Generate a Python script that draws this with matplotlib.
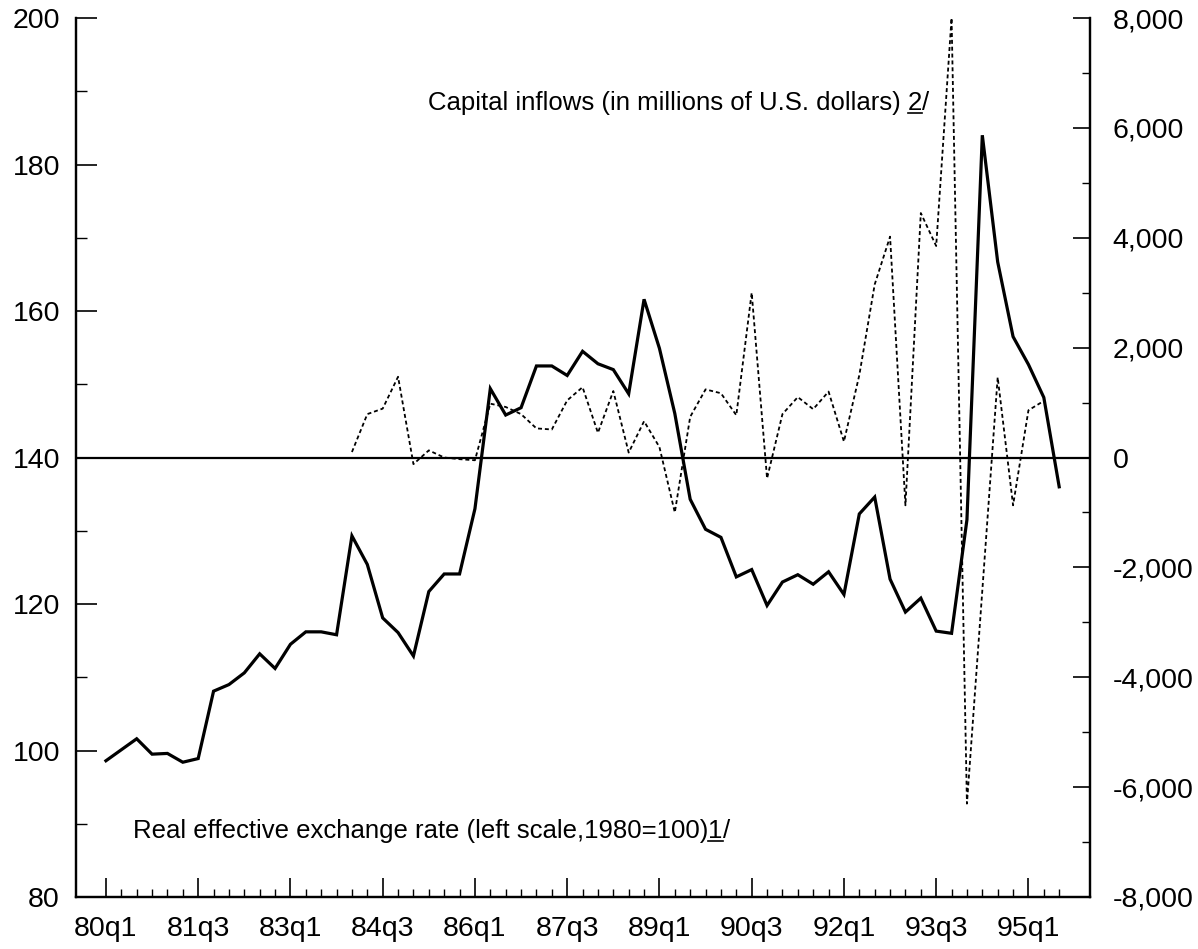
import matplotlib.pyplot as plt
from matplotlib.lines import Line2D
import numpy as np

plt.rcParams['font.family'] = ['Liberation Sans', 'DejaVu Sans']

# x axis: quarters from 80q1 (index 0) to 95q3 (index 62)
tick_labels = ['80q1', '81q3', '83q1', '84q3', '86q1', '87q3',
               '89q1', '90q3', '92q1', '93q3', '95q1']

# Real effective exchange rate, 1980=100 (left scale), 80q1-95q3
reer = [98.6, 100.1, 101.6, 99.5, 99.6, 98.4, 98.9, 108.1,
        109.0, 110.6, 113.2, 111.2, 114.5, 116.2, 116.2, 115.8,
        129.3, 125.4, 118.1, 116.1, 112.9, 121.7, 124.1, 124.1,
        133.0, 149.4, 145.8, 146.8, 152.5, 152.5, 151.2, 154.5,
        152.8, 152.0, 148.7, 161.6, 154.9, 146.0, 134.3, 130.2,
        129.1, 123.7, 124.7, 119.8, 123.0, 124.0, 122.7, 124.4,
        121.3, 132.3, 134.6, 123.4, 118.9, 120.8, 116.3, 116.0,
        131.5, 184.0, 166.7, 156.5, 152.7, 148.2, 136.0]

# Capital inflows, millions of U.S. dollars (right scale), 84q1-95q2
inflow_start = 16
inflows = [100, 790, 890, 1470, -120, 130, 0, -30,
           -50, 980, 920, 790, 530, 510, 1040, 1280,
           450, 1210, 90, 660, 190, -1000, 740, 1240,
           1170, 770, 3000, -380, 790, 1100, 880, 1200,
           290, 1500, 3150, 4020, -870, 4450, 3850, 8000,
           -6300, -2420, 1460, -870, 860, 1030]

right_ticks = list(range(-8000, 8001, 2000))
right_labels = ['{:,}'.format(v) for v in right_ticks]

FS = 20.5     # tick labels
FS_NOTE = 18.5

fig = plt.figure(figsize=(11.98, 9.49), dpi=100)
ax = fig.add_axes([0.0634, 0.0548, 0.8464, 0.9262])
ax2 = ax.twinx()

q = np.arange(len(reer))
qi = np.arange(inflow_start, inflow_start + len(inflows))

ax.axhline(140, color='black', lw=1.6, zorder=2)
ax.plot(q, reer, color='black', lw=2.3, solid_joinstyle='miter', zorder=3)
ax2.plot(qi, inflows, color='black', lw=1.3, linestyle=(0, (2.2, 1.6)),
         clip_on=False)

ax.set_xlim(-1.95, 64)
ax.set_ylim(80, 200)
ax2.set_ylim(-8000, 8000)

ax.set_xticks(range(0, 61, 6))
ax.set_xticklabels(tick_labels)
ax.set_xticks([i for i in q if i % 6], minor=True)
ax.set_yticks(range(80, 201, 20))
ax.set_yticks(range(90, 200, 20), minor=True)
ax2.set_yticks(right_ticks)
ax2.set_yticklabels(right_labels)
ax2.set_yticks(range(-7000, 8000, 2000), minor=True)

ax.tick_params(axis='x', which='major', direction='in', length=13.5, width=1.2,
               pad=14, labelsize=FS)
ax.tick_params(axis='x', which='minor', direction='in', length=6, width=1)
ax.tick_params(axis='y', which='major', direction='in', length=15, width=1.2,
               pad=11.5, labelsize=FS)
ax.tick_params(axis='y', which='minor', direction='in', length=8, width=1)
ax2.tick_params(axis='y', which='major', direction='in', length=12, width=1.2,
                pad=16.5, labelsize=FS)
ax2.tick_params(axis='y', which='minor', direction='in', length=6, width=1)

for a in (ax, ax2):
    a.spines['top'].set_visible(False)
    for s in ('left', 'right', 'bottom'):
        a.spines[s].set_linewidth(1.6)


def note(x, y, head, num, gap):
    # text with an underlined footnote number, e.g. "... 2/"
    W, H = fig.bbox.width, fig.bbox.height
    t = fig.text(x, y, head, fontsize=FS_NOTE, va='baseline')
    fig.canvas.draw()
    r = fig.canvas.get_renderer()
    x1 = t.get_window_extent(r).x1 + gap
    t2 = fig.text(x1 / W, y, num, fontsize=FS_NOTE, va='baseline')
    bb = t2.get_window_extent(r)
    fig.text(bb.x1 / W, y, '/', fontsize=FS_NOTE, va='baseline')
    yu = y - 3.0 / H
    fig.add_artist(Line2D([bb.x0 / W, bb.x1 / W], [yu, yu], color='black',
                          lw=1.2, transform=fig.transFigure))


space = 0.278 * FS_NOTE * 100 / 72
note(0.357, 0.884, 'Capital inflows (in millions of U.S. dollars)', '2', space)
note(0.111, 0.117, 'Real effective exchange rate (left scale,1980=100)', '1', 0)

fig.savefig('out.png', dpi=100)
